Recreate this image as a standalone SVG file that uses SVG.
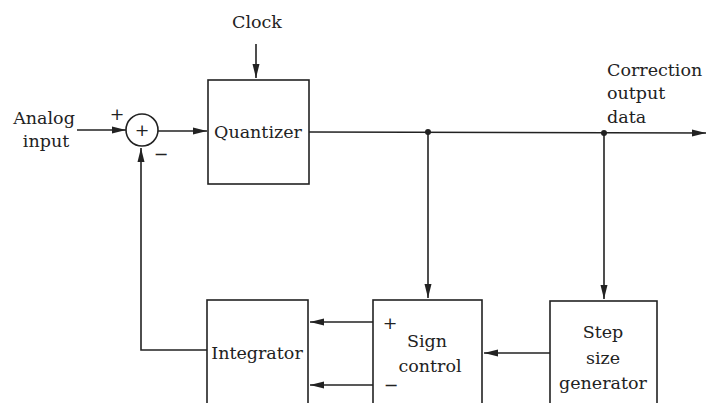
<svg xmlns="http://www.w3.org/2000/svg" width="713" height="403" viewBox="0 0 713 403">
<style>
.box{fill:none;stroke:#222;stroke-width:1.6}
.ln{fill:none;stroke:#222;stroke-width:1.6}
text{font-family:"DejaVu Serif","Liberation Serif",serif;font-size:17.5px;fill:#222}
.c{text-anchor:middle}
</style>
<defs>
<marker id="ah" markerWidth="14" markerHeight="8" refX="14" refY="4" orient="auto" markerUnits="userSpaceOnUse">
<path d="M0,0.5 L14,4 L0,7.5 Z" fill="#222"/>
</marker>
</defs>
<rect width="713" height="403" fill="#fff"/>
<g id="clock"><text x="257" y="28" class="c">Clock</text></g>
<g id="analog"><text x="44" y="124" class="c">Analog</text><text x="46" y="147" class="c">input</text></g>
<g id="sum">
<circle cx="142" cy="130" r="16" class="box"/>
<text x="142" y="136" class="c" font-size="15">+</text>
<text x="117" y="120" class="c" font-size="16">+</text>
<text x="161" y="160" class="c" font-size="16">−</text>
</g>
<g id="quantizer"><rect x="208" y="80" width="101" height="104" class="box"/><text x="258" y="138" class="c">Quantizer</text></g>
<g id="output"><text x="607" y="76">Correction</text><text x="607" y="99">output</text><text x="607" y="123">data</text></g>
<g id="integrator"><rect x="207" y="300" width="101" height="110" class="box"/><text x="257" y="359" class="c">Integrator</text></g>
<g id="sign">
<rect x="373" y="300" width="109" height="110" class="box"/>
<text x="427" y="347" class="c">Sign</text><text x="430" y="372" class="c">control</text>
<text x="390" y="329" class="c" font-size="16">+</text>
<text x="391" y="391" class="c" font-size="16">−</text>
</g>
<g id="step">
<rect x="550" y="301" width="107" height="110" class="box"/>
<text x="603" y="338" class="c">Step</text><text x="603" y="364" class="c">size</text><text x="603" y="389" class="c">generator</text>
</g>
<g id="connectors">
<line x1="256" y1="44" x2="256" y2="78" class="ln" marker-end="url(#ah)"/>
<line x1="77" y1="130" x2="126" y2="130" class="ln" marker-end="url(#ah)"/>
<line x1="158" y1="131" x2="207" y2="131" class="ln" marker-end="url(#ah)"/>
<line x1="309" y1="132" x2="706" y2="133" class="ln" marker-end="url(#ah)"/>
<circle cx="428" cy="132" r="3" fill="#222"/>
<circle cx="604" cy="133" r="3" fill="#222"/>
<line x1="428" y1="132" x2="428" y2="298" class="ln" marker-end="url(#ah)"/>
<line x1="604" y1="133" x2="604" y2="299" class="ln" marker-end="url(#ah)"/>
<polyline points="207,350 141,350 141,148" class="ln" marker-end="url(#ah)"/>
<line x1="373" y1="322" x2="310" y2="322" class="ln" marker-end="url(#ah)"/>
<line x1="373" y1="385" x2="310" y2="385" class="ln" marker-end="url(#ah)"/>
<line x1="550" y1="353" x2="484" y2="353" class="ln" marker-end="url(#ah)"/>
</g>
</svg>
